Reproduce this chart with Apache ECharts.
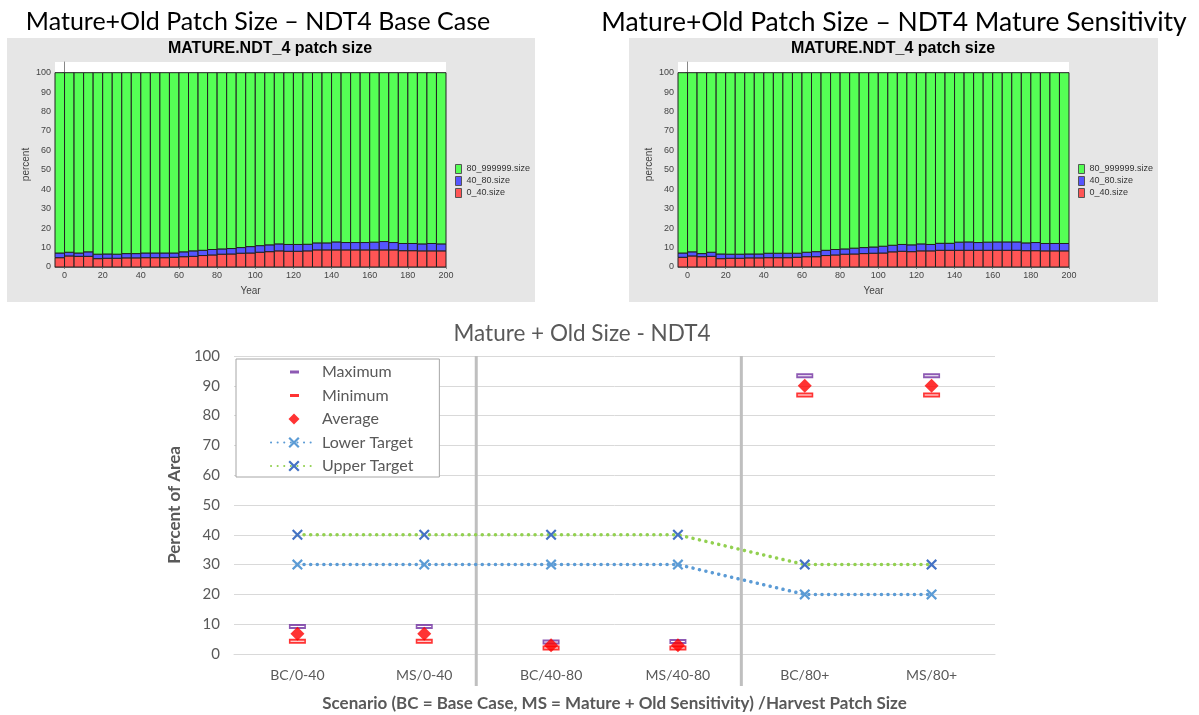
<!DOCTYPE html>
<html>
<head>
<meta charset="utf-8">
<script src="https://cdn.jsdelivr.net/npm/echarts@6/dist/echarts.min.js"></script>
<style>
html,body{margin:0;padding:0;background:#fff;}
#c{width:1199px;height:715px;}
</style>
</head>
<body>
<div id="c"></div>
<script>
// ---------- data ----------
const years = [0,5,10,15,20,25,30,35,40,45,50,55,60,65,70,75,80,85,90,95,100,105,110,115,120,125,130,135,140,145,150,155,160,165,170,175,180,185,190,195,200];
const yearTicks = [0,20,40,60,80,100,120,140,160,180,200];
const percentTicks = [0,10,20,30,40,50,60,70,80,90,100];
const sizeClasses = ['80_999999.size','40_80.size','0_40.size'];

// Base case (percent of mature+old area by patch size class)
const bcSmall = [4.8,5.7,5.5,5.5,4.3,4.5,4.5,4.7,4.7,4.8,4.8,4.8,5.0,5.3,5.5,5.9,6.2,6.6,6.7,7.1,7.2,7.6,7.9,8.3,8.1,8.1,8.3,8.8,8.8,8.8,8.8,8.8,8.8,8.8,8.8,8.8,8.4,8.4,8.3,8.3,8.3];
const bcMedium = [2.4,1.9,1.7,2.3,2.3,2.2,2.1,2.2,2.2,2.4,2.4,2.4,2.2,2.5,2.8,2.7,2.8,2.7,2.8,2.9,3.3,3.4,3.5,3.6,3.5,3.5,3.4,3.6,3.6,4.1,3.8,3.8,3.8,4.0,4.3,3.8,3.7,3.7,3.6,3.8,3.6];
const bcLarge = [92.8,92.4,92.8,92.2,93.4,93.3,93.4,93.1,93.1,92.8,92.8,92.8,92.8,92.2,91.7,91.4,91.0,90.7,90.5,90.0,89.5,89.0,88.6,88.1,88.4,88.4,88.3,87.6,87.6,87.1,87.4,87.4,87.4,87.2,86.9,87.4,87.9,87.9,88.1,87.9,88.1];

// Mature sensitivity
const msSmall = [5.0,5.7,5.3,5.5,4.3,4.5,4.5,4.7,4.7,4.8,4.8,4.8,5.0,5.3,5.3,5.9,6.2,6.6,6.7,6.9,7.1,7.2,7.8,8.1,7.9,8.3,8.3,8.6,8.6,8.6,8.6,8.6,8.6,8.6,8.6,8.6,8.4,8.4,8.3,8.3,8.3];
const msMedium = [2.2,2.1,1.6,2.1,2.4,2.1,2.1,2.0,2.0,2.3,2.3,2.3,2.1,2.3,2.6,2.7,2.8,2.7,3.0,3.1,3.2,3.5,3.4,3.5,3.5,3.6,3.3,3.6,3.6,4.2,4.3,4.0,4.2,4.3,4.3,4.3,4.0,4.2,3.8,3.8,3.8];
const msLarge = [92.8,92.2,93.1,92.4,93.3,93.4,93.4,93.3,93.3,92.9,92.9,92.9,92.9,92.4,92.1,91.4,91.0,90.7,90.3,90.0,89.7,89.3,88.8,88.4,88.6,88.1,88.4,87.8,87.8,87.2,87.1,87.4,87.2,87.1,87.1,87.1,87.6,87.4,87.9,87.9,87.9];

// Summary chart
const scenarios = ['BC/0-40','MS/0-40','BC/40-80','MS/40-80','BC/80+','MS/80+'];
const maximum = [9.2,9.2,4.0,4.2,93.4,93.4];
const minimum = [4.3,4.3,2.0,2.0,86.9,86.9];
const average = [6.8,6.8,2.9,2.9,90.0,90.0];
const lowerTarget = [30,30,30,30,20,20];
const upperTarget = [40,40,40,40,30,30];
const separators = [1.91, 4.0];   // position in category units

// ---------- helpers ----------
const BAR_W = 5;
function stackData(parts){
  const out = parts.map(()=>[]);
  years.forEach((yr,i)=>{
    let base = 0;
    parts.forEach((arr,k)=>{
      out[k].push([yr-BAR_W, yr, base, base+arr[i]]);
      base += arr[i];
    });
  });
  return out;
}
function renderBar(params, api){
  const p0 = api.coord([api.value(0), api.value(3)]);
  const p1 = api.coord([api.value(1), api.value(2)]);
  return {type:'rect', shape:{x:p0[0], y:p0[1], width:p1[0]-p0[0], height:p1[1]-p0[1]},
          style:{fill:api.visual('color'), stroke:'#222', lineWidth:1}};
}
const COLORS = {'0_40.size':'#ff5555','40_80.size':'#5555ff','80_999999.size':'#55ff55'};
function barSeries(grid, small, medium, large){
  const d = stackData([small, medium, large]);
  const names = ['0_40.size','40_80.size','80_999999.size'];
  return names.map((n,k)=>({
    type:'custom', name:n, xAxisIndex:grid, yAxisIndex:grid,
    renderItem:renderBar, data:d[k], encode:{x:[0,1], y:[2,3]},
    itemStyle:{color:COLORS[n], borderColor:'#555'}, silent:true
  }));
}
function topXAxis(grid){
  return {type:'value', gridIndex:grid, min:-5, max:200,
    axisLine:{lineStyle:{color:'#888'}},
    axisTick:{customValues:yearTicks, length:2, lineStyle:{color:'#888'}},
    axisLabel:{customValues:yearTicks, fontSize:9, color:'#444', margin:4, fontFamily:'Liberation Sans'},
    splitLine:{show:false},
    name:'Year', nameLocation:'middle', nameGap:19,
    nameTextStyle:{fontSize:10, color:'#444', fontFamily:'Liberation Sans'}};
}
function topYAxis(grid){
  return {type:'value', gridIndex:grid, min:0, max:105.5,
    axisLine:{show:true, lineStyle:{color:'#888'}},
    axisTick:{show:true, customValues:percentTicks, length:2, lineStyle:{color:'#888'}},
    axisLabel:{customValues:percentTicks, fontSize:9, color:'#444', margin:4, fontFamily:'Liberation Sans'},
    splitLine:{show:false},
    name:'percent', nameLocation:'middle', nameRotate:90, nameGap:24,
    nameTextStyle:{fontSize:10, color:'#444', fontFamily:'Liberation Sans'}};
}
function topLegend(left){
  return {orient:'vertical', left:left, top:164, padding:0, itemGap:2, itemWidth:6, itemHeight:9,
    icon:'rect', selectedMode:false,
    itemStyle:{borderColor:'#555', borderWidth:1},
    textStyle:{fontSize:9, color:'#333', fontFamily:'Liberation Sans'},
    data:sizeClasses};
}

const MARK = 'path://M0,0h16v5h-16z M1.5,2v1h13v-1z';
const XSYM = 'path://M0,1.4L1.4,0L5,3.6L8.6,0L10,1.4L6.4,5L10,8.6L8.6,10L5,6.4L1.4,10L0,8.6L3.6,5Z';
const LG_DASH = 'path://M0,0M46,14M19,5.5h9v3h-9z';
const LG_DIAMOND = 'path://M0,0M46,14M23,1.5L28.5,7L23,12.5L17.5,7Z';
const CAL = 'Lato';

function renderSep(params, api){
  const v = api.value(0);
  const top = api.coord([v, 100]);
  const bot = api.coord([v, 0]);
  return {type:'line', shape:{x1:top[0], y1:top[1], x2:bot[0], y2:bot[1]+32},
          style:{stroke:'#bfbfbf', lineWidth:3}};
}

const option = {
  animation:false,
  backgroundColor:'#fff',
  graphic:[
    {type:'rect', z:-10, shape:{x:7, y:38, width:528, height:264}, style:{fill:'#e6e6e6'}},
    {type:'rect', z:-10, shape:{x:629, y:38, width:529, height:264}, style:{fill:'#e6e6e6'}},
    {type:'text', x:258, y:22, style:{text:'Mature+Old Patch Size \u2013 NDT4 Base Case', fontSize:25, fontFamily:CAL, fill:'#000', align:'center', verticalAlign:'middle', textAlign:'center', textVerticalAlign:'middle'}},
    {type:'text', x:894, y:22, style:{text:'Mature+Old Patch Size \u2013 NDT4 Mature Sensitivity', fontSize:26.5, fontFamily:CAL, fill:'#000', align:'center', verticalAlign:'middle', textAlign:'center', textVerticalAlign:'middle'}},
    {type:'text', x:270, y:49, style:{text:'MATURE.NDT_4 patch size', fontSize:16, fontWeight:'bold', fontFamily:'Liberation Sans', fill:'#000', align:'center', verticalAlign:'middle', textAlign:'center', textVerticalAlign:'middle'}},
    {type:'text', x:893, y:49, style:{text:'MATURE.NDT_4 patch size', fontSize:16, fontWeight:'bold', fontFamily:'Liberation Sans', fill:'#000', align:'center', verticalAlign:'middle', textAlign:'center', textVerticalAlign:'middle'}},
    {type:'text', x:582, y:334, style:{text:'Mature + Old Size - NDT4', fontSize:22.5, fontFamily:CAL, fill:'#595959', align:'center', verticalAlign:'middle', textAlign:'center', textVerticalAlign:'middle'}}
  ],
  grid:[
    {left:55, top:62, width:391, height:205, show:true, backgroundColor:'#fff', borderWidth:0},
    {left:678, top:62, width:391, height:205, show:true, backgroundColor:'#fff', borderWidth:0},
    {left:234, top:356, width:761, height:298}
  ],
  legend:[
    topLegend(455),
    topLegend(1078),
    {orient:'vertical', left:236, top:359, padding:[5,26,3,34], itemGap:7.5, itemWidth:46, itemHeight:14,
     backgroundColor:'#fff', borderColor:'#a6a6a6', borderWidth:1, selectedMode:false,
     textStyle:{fontSize:16, color:'#595959', fontFamily:CAL},
     data:[
       {name:'Maximum', icon:LG_DASH},
       {name:'Minimum', icon:LG_DASH},
       {name:'Average', icon:LG_DIAMOND},
       {name:'Lower Target'},
       {name:'Upper Target'}
     ]}
  ],
  xAxis:[
    topXAxis(0), topXAxis(1),
    {type:'category', gridIndex:2, data:scenarios, boundaryGap:true,
     axisLine:{lineStyle:{color:'#d9d9d9', width:1}}, axisTick:{show:false},
     axisLabel:{fontSize:14, color:'#595959', margin:14, fontFamily:CAL},
     name:'Scenario (BC = Base Case, MS = Mature + Old Sensitivity) /Harvest Patch Size',
     nameLocation:'middle', nameGap:41,
     nameTextStyle:{fontSize:17, fontWeight:'bold', color:'#595959', fontFamily:CAL}},
    {type:'value', gridIndex:2, min:0, max:6, show:false}
  ],
  yAxis:[
    topYAxis(0), topYAxis(1),
    {type:'value', gridIndex:2, min:0, max:100, interval:10,
     axisLine:{show:false}, axisTick:{show:false},
     splitLine:{lineStyle:{color:'#d9d9d9', width:1}},
     axisLabel:{fontSize:15, color:'#595959', margin:14, fontFamily:CAL},
     name:'Percent of Area', nameLocation:'middle', nameRotate:90, nameGap:47,
     nameTextStyle:{fontSize:17, fontWeight:'bold', color:'#595959', fontFamily:CAL}}
  ],
  series:[
    ...barSeries(0, bcSmall, bcMedium, bcLarge),
    ...barSeries(1, msSmall, msMedium, msLarge),
    {type:'custom', xAxisIndex:3, yAxisIndex:2, renderItem:renderSep, silent:true, clip:false,
     data:separators.map(v=>[v,0]), encode:{x:0, y:1}, z:1},
    {type:'scatter', name:'Maximum', xAxisIndex:2, yAxisIndex:2, data:maximum,
     symbol:MARK, symbolSize:[17,5], itemStyle:{color:'#7030a0'}, z:3},
    {type:'scatter', name:'Minimum', xAxisIndex:2, yAxisIndex:2, data:minimum,
     symbol:MARK, symbolSize:[17,5], itemStyle:{color:'#ff0000'}, z:3},
    {type:'scatter', name:'Average', xAxisIndex:2, yAxisIndex:2, data:average,
     symbol:'diamond', symbolSize:[14,14], itemStyle:{color:'#ff0000'}, z:4},
    {type:'line', name:'Lower Target', xAxisIndex:2, yAxisIndex:2, data:lowerTarget,
     symbol:XSYM, symbolSize:11, showAllSymbol:true,
     lineStyle:{color:'#5b9bd5', width:3.5, type:[0.1,6.5], cap:'round'},
     itemStyle:{color:'#5b9bd5'}, z:2},
    {type:'line', name:'Upper Target', xAxisIndex:2, yAxisIndex:2, data:upperTarget,
     symbol:XSYM, symbolSize:11, showAllSymbol:true,
     lineStyle:{color:'#92d050', width:3.5, type:[0.1,6.5], cap:'round'},
     itemStyle:{color:'#4472c4'}, z:2}
  ]
};

const chart = echarts.init(document.getElementById('c'), null, {renderer:'canvas'});
chart.setOption(option);
</script>
</body>
</html>
